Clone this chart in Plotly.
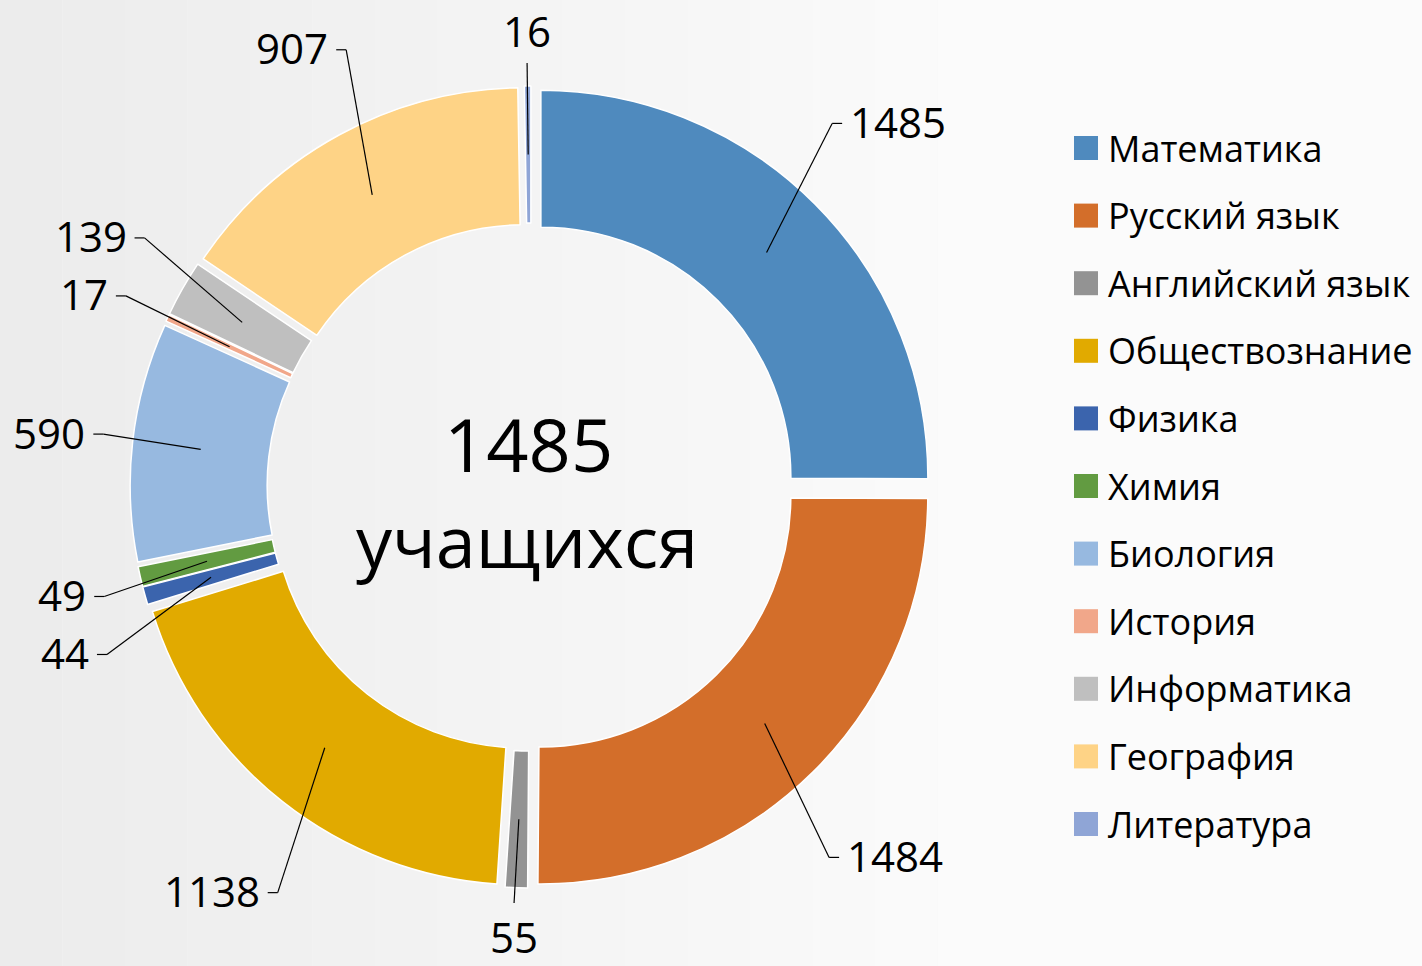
import math
import plotly.graph_objects as go

# ---- data ----
subjects = ["Математика", "Русский язык", "Английский язык", "Обществознание", "Физика",
            "Химия", "Биология", "История", "Информатика", "География", "Литература"]
students = [1485, 1484, 55, 1138, 44, 49, 590, 17, 139, 907, 16]
colors = ["#4F8ABE", "#D36E2A", "#939393", "#E1AA00", "#3B64AD", "#629B41",
          "#97B9E0", "#F1A78A", "#BFBFBF", "#FED386", "#8FA5D6"]
center_number = "1485"
center_word = "учащихся"

# ---- layout constants (pixels) ----
W, H = 1422, 966
CX, CY = 531.0, 487.0
R = 387.0
PULL = 0.036
HOLE = 0.646
FONT = "Open Sans"
LABEL_SIZE = 42
LEGEND_SIZE = 36
CENTER_SIZE = 74

half = R * (1 + PULL)
fig = go.Figure()
fig.add_trace(go.Pie(
    labels=subjects, values=students,
    marker=dict(colors=colors, line=dict(color="white", width=1.5)),
    hole=HOLE, pull=[PULL] * len(students), sort=False, direction="clockwise",
    rotation=0, textinfo="none", hoverinfo="label+value", showlegend=False,
    domain=dict(x=[(CX - half) / W, (CX + half) / W],
                y=[1 - (CY + half) / H, 1 - (CY - half) / H]),
))
# invisible cartesian overlay in pixel units, for leader lines and labels
fig.add_trace(go.Scatter(x=[], y=[], hoverinfo="skip", showlegend=False))

shapes = []
annotations = []

# background gradient (light grey on the left to almost white on the right)
N = 16
for i in range(N):
    t = i / (N - 1)
    g = int(round(236 + (251 - 236) * t))
    shapes.append(dict(type="rect", xref="paper", yref="paper", layer="below",
                       x0=i * 1000 / N / W if i else -0.01,
                       x1=((i + 1) * 1000 / N / W) if i < N - 1 else 1.01,
                       y0=-0.01, y1=1.01, line=dict(width=0),
                       fillcolor=f"rgb({g},{g},{g})"))


def polar(theta_deg, r):
    t = math.radians(theta_deg)
    return CX + r * math.sin(t), CY - r * math.cos(t)


total = sum(students)
r_start = R * PULL + R * (1 + HOLE) / 2
R0 = 440
LH = 40
MIN_GAP = 58
labels = []
cum = 0
for v in students:
    mid = (cum + v / 2) / total * 360
    cum += v
    dx, dy = math.sin(math.radians(mid)), -math.cos(math.radians(mid))
    w = 24 * len(str(v))
    sup = abs(dx) * w / 2 + abs(dy) * LH / 2 + 60 * abs(dx * dy)
    cx, cy = polar(mid, R0 + sup)
    cy = min(max(cy, 30), H - 30)
    sx, sy = polar(mid, r_start)
    side = "v" if abs(dx) < 0.2 else ("l" if dx < 0 else "r")
    labels.append(dict(v=v, w=w, cx=cx, cy=cy, sx=sx, sy=sy, side=side, dy=dy))

# resolve vertical collisions on each side
for s in ("l", "r"):
    grp = sorted([L for L in labels if L["side"] == s], key=lambda L: L["cy"])
    for a, b in zip(grp, grp[1:]):
        if b["cy"] - a["cy"] < MIN_GAP:
            b["cy"] = a["cy"] + MIN_GAP

line_style = dict(color="black", width=1.2)
for L in labels:
    annotations.append(dict(x=L["cx"], y=L["cy"], xref="x", yref="y", text=str(L["v"]),
                            showarrow=False, xanchor="center", yanchor="middle",
                            font=dict(family=FONT, size=LABEL_SIZE, color="black")))
    if L["side"] == "v":
        ey = L["cy"] + 33 if L["dy"] < 0 else L["cy"] - 33
        shapes.append(dict(type="line", xref="x", yref="y", layer="above",
                           x0=L["sx"], y0=L["sy"], x1=L["cx"], y1=ey, line=line_style))
    else:
        if L["side"] == "l":
            tail = L["cx"] + L["w"] / 2 + 8
            elbow = tail + 10
        else:
            tail = L["cx"] - L["w"] / 2 - 8
            elbow = tail - 10
        ly = L["cy"] + 2
        shapes.append(dict(type="line", xref="x", yref="y", layer="above",
                           x0=L["sx"], y0=L["sy"], x1=elbow, y1=ly, line=line_style))
        shapes.append(dict(type="line", xref="x", yref="y", layer="above",
                           x0=elbow, y0=ly, x1=tail, y1=ly, line=line_style))

# centre text
annotations.append(dict(x=528, y=443, xref="x", yref="y", text=center_number, showarrow=False,
                        xanchor="center", yanchor="middle",
                        font=dict(family=FONT, size=CENTER_SIZE, color="black")))
annotations.append(dict(x=527, y=540, xref="x", yref="y", text=center_word, showarrow=False,
                        xanchor="center", yanchor="middle",
                        font=dict(family=FONT, size=72, color="black")))

# legend
LEG_X, LEG_Y0, LEG_DY, SQ = 1074, 148, 67.6, 24
for i, (name, col) in enumerate(zip(subjects, colors)):
    yc = LEG_Y0 + LEG_DY * i
    shapes.append(dict(type="rect", xref="x", yref="y", layer="above",
                       x0=LEG_X, x1=LEG_X + SQ, y0=yc - SQ / 2, y1=yc + SQ / 2,
                       fillcolor=col, line=dict(width=0)))
    annotations.append(dict(x=LEG_X + SQ + 8, y=yc, xref="x", yref="y", text=name,
                            showarrow=False, xanchor="left", yanchor="middle",
                            font=dict(family=FONT, size=LEGEND_SIZE, color="black")))

fig.update_layout(
    width=W, height=H, margin=dict(l=0, r=0, t=0, b=0, pad=0),
    paper_bgcolor="#f4f4f4", plot_bgcolor="rgba(0,0,0,0)",
    xaxis=dict(range=[0, W], visible=False, fixedrange=True),
    yaxis=dict(range=[H, 0], visible=False, fixedrange=True),
    shapes=shapes, annotations=annotations, showlegend=False,
    font=dict(family=FONT),
)

fig.write_html("out.html", config={"displayModeBar": False},
               post_script="document.body.style.margin='0';")
